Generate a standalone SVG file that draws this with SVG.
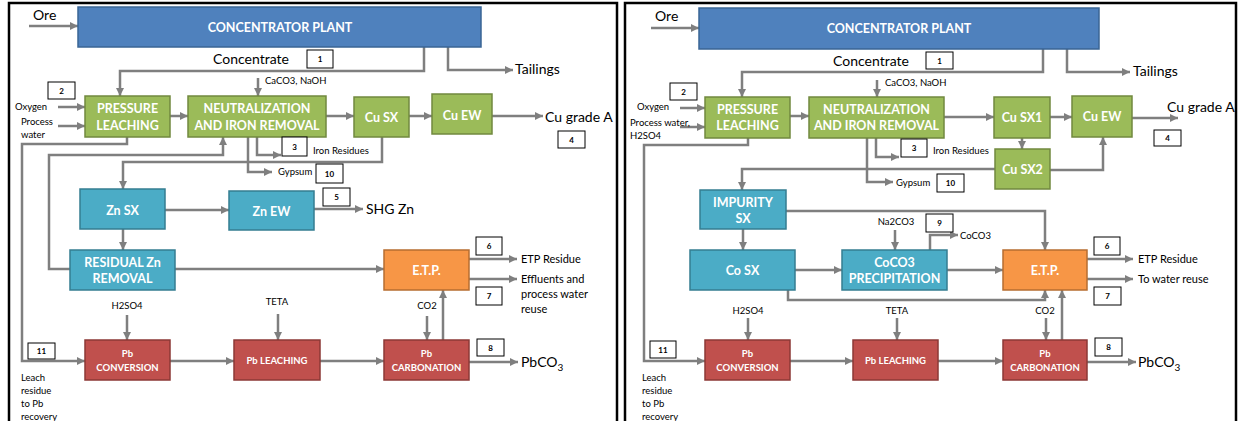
<svg xmlns="http://www.w3.org/2000/svg" width="1239" height="421" viewBox="0 0 1239 421">
  <defs>
    <marker id="ah" markerUnits="userSpaceOnUse" markerWidth="9" markerHeight="9" refX="8" refY="4.5" orient="auto">
      <path d="M0,0.5 L8,4.5 L0,8.5 z" fill="#7f7f7f"/>
    </marker>
    <style>
      .frame { fill: none; stroke: #000; stroke-width: 2.5; }
      .blue { fill: #4f81bd; stroke: #3a6595; stroke-width: 1.5; }
      .green { fill: #9bbb59; stroke: #71893f; stroke-width: 1.5; }
      .teal { fill: #4bacc6; stroke: #357d91; stroke-width: 1.5; }
      .orange { fill: #f79646; stroke: #b66d31; stroke-width: 1.5; }
      .red { fill: #c0504d; stroke: #8c3836; stroke-width: 1.5; }
      .nb { fill: #fff; stroke: #000; stroke-width: 1; }
      .nt { font-family: Lato, "Open Sans", sans-serif; font-size: 8px; font-weight: bold; fill: #000; text-anchor: middle; }
      .bt { font-family: Lato, "Open Sans", sans-serif; font-size: 12.5px; font-weight: bold; fill: #fff; text-anchor: middle; }
      .bts { font-family: Lato, "Open Sans", sans-serif; font-size: 9.5px; font-weight: bold; fill: #fff; text-anchor: middle; }
      .lg { font-family: Lato, "Open Sans", sans-serif; font-size: 14px; fill: #000; }
      .md { font-family: Lato, "Open Sans", sans-serif; font-size: 11px; fill: #000; }
      .sm { font-family: Lato, "Open Sans", sans-serif; font-size: 9.5px; fill: #000; }
      .ct { text-anchor: middle; }
      #connectors path { fill: none; stroke: #7f7f7f; stroke-width: 2.5; }
    </style>
  </defs>

  <rect width="1239" height="421" fill="#fff"/>

  <!-- panel frames -->
  <rect class="frame" x="9" y="3" width="608" height="440"/>
  <rect class="frame" x="625" y="3" width="611" height="440"/>

  <g id="connectors">
    <!-- left process -->
    <path d="M29,26 H78" marker-end="url(#ah)"/>
    <path d="M424,47 V71 H120 V96" marker-end="url(#ah)"/>
    <path d="M448,47 V70 H513" marker-end="url(#ah)"/>
    <path d="M258,78 V96" marker-end="url(#ah)"/>
    <path d="M58,107 H85" marker-end="url(#ah)"/>
    <path d="M58,126 H85" marker-end="url(#ah)"/>
    <path d="M170,116 H188" marker-end="url(#ah)"/>
    <path d="M326,116 H354" marker-end="url(#ah)"/>
    <path d="M409,116 H432" marker-end="url(#ah)"/>
    <path d="M492,116 H543" marker-end="url(#ah)"/>
    <path d="M127,137 V144 H22 V361 H85" marker-end="url(#ah)"/>
    <path d="M70,269 H49 V155 H223 V137" marker-end="url(#ah)"/>
    <path d="M248,137 V172 H272" marker-end="url(#ah)"/>
    <path d="M257,137 V155 H281" marker-end="url(#ah)"/>
    <path d="M382,137 V162 H123 V189" marker-end="url(#ah)"/>
    <path d="M165,210 H229" marker-end="url(#ah)"/>
    <path d="M314,209 H363" marker-end="url(#ah)"/>
    <path d="M123,229 V250" marker-end="url(#ah)"/>
    <path d="M175,269 H384" marker-end="url(#ah)"/>
    <path d="M469,259 H517" marker-end="url(#ah)"/>
    <path d="M469,279 H517" marker-end="url(#ah)"/>
    <path d="M427,316 V340" marker-end="url(#ah)"/>
    <path d="M443,340 V290" marker-end="url(#ah)"/>
    <path d="M469,362 H518" marker-end="url(#ah)"/>
    <path d="M170,361 H234" marker-end="url(#ah)"/>
    <path d="M320,361 H384" marker-end="url(#ah)"/>
    <path d="M127,315 V340" marker-end="url(#ah)"/>
    <path d="M278,314 V340" marker-end="url(#ah)"/>

    <!-- right process -->
    <path d="M651,28 H699" marker-end="url(#ah)"/>
    <path d="M1043,49 V72 H742 V97" marker-end="url(#ah)"/>
    <path d="M1067,49 V72 H1130" marker-end="url(#ah)"/>
    <path d="M877,80 V97" marker-end="url(#ah)"/>
    <path d="M680,108 H705" marker-end="url(#ah)"/>
    <path d="M680,127 H705" marker-end="url(#ah)"/>
    <path d="M790,116 H809" marker-end="url(#ah)"/>
    <path d="M944,117 H994" marker-end="url(#ah)"/>
    <path d="M1050,117 H1072" marker-end="url(#ah)"/>
    <path d="M1132,118 H1178" marker-end="url(#ah)"/>
    <path d="M1022,138 V149" marker-end="url(#ah)"/>
    <path d="M1050,170 H1103 V137" marker-end="url(#ah)"/>
    <path d="M995,169 H742 V190" marker-end="url(#ah)"/>
    <path d="M748,138 V145 H644 V361 H705" marker-end="url(#ah)"/>
    <path d="M867,138 V182 H893" marker-end="url(#ah)"/>
    <path d="M876,138 V157 H899" marker-end="url(#ah)"/>
    <path d="M786,211 H1045 V250" marker-end="url(#ah)"/>
    <path d="M743,229 V250" marker-end="url(#ah)"/>
    <path d="M895,230 V250" marker-end="url(#ah)"/>
    <path d="M930,250 V235 H958" marker-end="url(#ah)"/>
    <path d="M795,270 H842" marker-end="url(#ah)"/>
    <path d="M947,270 H1003" marker-end="url(#ah)"/>
    <path d="M788,290 V300 H1045 V290" marker-end="url(#ah)"/>
    <path d="M1087,259 H1133" marker-end="url(#ah)"/>
    <path d="M1087,279 H1133" marker-end="url(#ah)"/>
    <path d="M1046,318 V340" marker-end="url(#ah)"/>
    <path d="M1062,340 V290" marker-end="url(#ah)"/>
    <path d="M1087,362 H1136" marker-end="url(#ah)"/>
    <path d="M790,361 H853" marker-end="url(#ah)"/>
    <path d="M938,361 H1003" marker-end="url(#ah)"/>
    <path d="M748,318 V340" marker-end="url(#ah)"/>
    <path d="M897,318 V340" marker-end="url(#ah)"/>
  </g>

  <!-- left flowsheet: Zn recovery -->
  <g id="l-concentrator"><rect class="blue" x="78" y="7" width="403" height="40"/><text class="bt" x="280" y="31.5">CONCENTRATOR PLANT</text></g>
  <g id="l-pressure-leaching"><rect class="green" x="85" y="96" width="85" height="41"/><text class="bt" x="127.5" y="113">PRESSURE</text><text class="bt" x="127.5" y="129.5">LEACHING</text></g>
  <g id="l-neutralization"><rect class="green" x="188" y="96" width="138" height="41"/><text class="bt" x="257" y="113">NEUTRALIZATION</text><text class="bt" x="257" y="129.5">AND IRON REMOVAL</text></g>
  <g id="l-cu-sx"><rect class="green" x="354" y="97" width="55" height="40"/><text class="bt" x="381.5" y="121.5">Cu SX</text></g>
  <g id="l-cu-ew"><rect class="green" x="432" y="94" width="60" height="40"/><text class="bt" x="462" y="119.5">Cu EW</text></g>
  <g id="l-zn-sx"><rect class="teal" x="80" y="189" width="85" height="40"/><text class="bt" x="122.5" y="214.5">Zn SX</text></g>
  <g id="l-zn-ew"><rect class="teal" x="229" y="191" width="85" height="39"/><text class="bt" x="271.5" y="215.5">Zn EW</text></g>
  <g id="l-residual-zn"><rect class="teal" x="70" y="250" width="105" height="40"/><text class="bt" x="122.5" y="266.5">RESIDUAL Zn</text><text class="bt" x="122.5" y="282.5">REMOVAL</text></g>
  <g id="l-etp"><rect class="orange" x="384" y="250" width="85" height="40"/><text class="bt" x="426.5" y="274.5">E.T.P.</text></g>
  <g id="l-pb-conversion"><rect class="red" x="85" y="340" width="85" height="40"/><text class="bts" x="127.5" y="357">Pb</text><text class="bts" x="127.5" y="370.5">CONVERSION</text></g>
  <g id="l-pb-leaching"><rect class="red" x="234" y="340" width="86" height="40"/><text class="bts" x="277" y="364">Pb LEACHING</text></g>
  <g id="l-pb-carbonation"><rect class="red" x="384" y="340" width="85" height="40"/><text class="bts" x="426.5" y="357">Pb</text><text class="bts" x="426.5" y="370.5">CARBONATION</text></g>

  <!-- left stream labels -->
  <g id="l-labels">
    <text class="lg" x="33" y="20">Ore</text>
    <text class="lg" x="213" y="64">Concentrate</text>
    <text class="lg" x="515" y="74">Tailings</text>
    <text class="sm" x="265" y="84">CaCO3, NaOH</text>
    <text class="sm" x="15" y="110">Oxygen</text>
    <text class="sm" x="21" y="125">Process</text>
    <text class="sm" x="21" y="138">water</text>
    <text class="lg" x="545" y="122">Cu grade A</text>
    <text class="sm" x="313" y="154">Iron Residues</text>
    <text class="sm" x="278" y="175">Gypsum</text>
    <text class="lg" x="366" y="214">SHG Zn</text>
    <text class="md" x="521" y="263">ETP Residue</text>
    <text class="md" x="521" y="283">Effluents and</text>
    <text class="md" x="521" y="298">process water</text>
    <text class="md" x="521" y="313">reuse</text>
    <text class="sm ct" x="427" y="309">CO2</text>
    <text class="sm ct" x="127" y="309">H2SO4</text>
    <text class="sm ct" x="277" y="305">TETA</text>
    <text class="lg" x="521" y="367">PbCO<tspan dy="4" font-size="10">3</tspan></text>
    <text class="sm" x="21" y="381">Leach</text>
    <text class="sm" x="21" y="394">residue</text>
    <text class="sm" x="21" y="407">to Pb</text>
    <text class="sm" x="21" y="420">recovery</text>
  </g>

  <!-- left stream numbers -->
  <g id="l-numbers">
    <rect class="nb" x="307" y="50" width="26" height="18"/><text class="nt" x="320" y="62">1</text>
    <rect class="nb" x="48" y="82" width="27" height="17"/><text class="nt" x="61.5" y="93.5">2</text>
    <rect class="nb" x="282" y="137" width="25" height="19"/><text class="nt" x="294.5" y="149.5">3</text>
    <rect class="nb" x="558" y="131" width="27" height="17"/><text class="nt" x="571.5" y="142.5">4</text>
    <rect class="nb" x="323" y="188" width="27" height="18"/><text class="nt" x="336.5" y="200">5</text>
    <rect class="nb" x="476" y="237" width="26" height="18"/><text class="nt" x="489" y="249">6</text>
    <rect class="nb" x="476" y="287" width="26" height="18"/><text class="nt" x="489" y="299">7</text>
    <rect class="nb" x="477" y="339" width="27" height="17"/><text class="nt" x="490.5" y="350.5">8</text>
    <rect class="nb" x="316" y="164" width="27" height="19"/><text class="nt" x="329.5" y="176.5">10</text>
    <rect class="nb" x="28" y="343" width="27" height="16"/><text class="nt" x="41.5" y="354">11</text>
  </g>

  <!-- right flowsheet: Co recovery -->
  <g id="r-concentrator"><rect class="blue" x="699" y="8" width="400" height="41"/><text class="bt" x="899" y="32.5">CONCENTRATOR PLANT</text></g>
  <g id="r-pressure-leaching"><rect class="green" x="705" y="97" width="85" height="41"/><text class="bt" x="747.5" y="113.5">PRESSURE</text><text class="bt" x="747.5" y="130">LEACHING</text></g>
  <g id="r-neutralization"><rect class="green" x="809" y="97" width="135" height="41"/><text class="bt" x="876.5" y="113.5">NEUTRALIZATION</text><text class="bt" x="876.5" y="130">AND IRON REMOVAL</text></g>
  <g id="r-cu-sx1"><rect class="green" x="994" y="97" width="56" height="41"/><text class="bt" x="1022" y="122">Cu SX1</text></g>
  <g id="r-cu-ew"><rect class="green" x="1072" y="96" width="60" height="41"/><text class="bt" x="1102" y="120.5">Cu EW</text></g>
  <g id="r-cu-sx2"><rect class="green" x="995" y="149" width="55" height="40"/><text class="bt" x="1022.5" y="174">Cu SX2</text></g>
  <g id="r-impurity-sx"><rect class="teal" x="700" y="190" width="86" height="39"/><text class="bt" x="743" y="206.5">IMPURITY</text><text class="bt" x="743" y="222.5">SX</text></g>
  <g id="r-co-sx"><rect class="teal" x="690" y="250" width="105" height="40"/><text class="bt" x="742.5" y="274.5">Co SX</text></g>
  <g id="r-coco3"><rect class="teal" x="842" y="250" width="105" height="40"/><text class="bt" x="894.5" y="266.5">CoCO3</text><text class="bt" x="894.5" y="282.5">PRECIPITATION</text></g>
  <g id="r-etp"><rect class="orange" x="1003" y="250" width="84" height="40"/><text class="bt" x="1045" y="274.5">E.T.P.</text></g>
  <g id="r-pb-conversion"><rect class="red" x="705" y="340" width="85" height="40"/><text class="bts" x="747.5" y="357">Pb</text><text class="bts" x="747.5" y="370.5">CONVERSION</text></g>
  <g id="r-pb-leaching"><rect class="red" x="853" y="340" width="85" height="40"/><text class="bts" x="895.5" y="364">Pb LEACHING</text></g>
  <g id="r-pb-carbonation"><rect class="red" x="1003" y="340" width="84" height="40"/><text class="bts" x="1045" y="357">Pb</text><text class="bts" x="1045" y="370.5">CARBONATION</text></g>

  <!-- right stream labels -->
  <g id="r-labels">
    <text class="lg" x="655" y="21">Ore</text>
    <text class="lg" x="833" y="66">Concentrate</text>
    <text class="lg" x="1133" y="76">Tailings</text>
    <text class="sm" x="885" y="86">CaCO3, NaOH</text>
    <text class="sm" x="637" y="110">Oxygen</text>
    <text class="sm" x="630" y="126">Process water,</text>
    <text class="sm" x="630" y="139">H2SO4</text>
    <text class="lg" x="1167" y="112">Cu grade A</text>
    <text class="sm" x="933" y="154">Iron Residues</text>
    <text class="sm" x="896" y="186">Gypsum</text>
    <text class="sm ct" x="896" y="225">Na2CO3</text>
    <text class="sm" x="960" y="239">CoCO3</text>
    <text class="md" x="1138" y="263">ETP Residue</text>
    <text class="md" x="1138" y="283">To water reuse</text>
    <text class="sm ct" x="1045" y="314">CO2</text>
    <text class="sm ct" x="748" y="314">H2SO4</text>
    <text class="sm ct" x="897" y="314">TETA</text>
    <text class="lg" x="1138" y="367">PbCO<tspan dy="4" font-size="10">3</tspan></text>
    <text class="sm" x="642" y="381">Leach</text>
    <text class="sm" x="642" y="394">residue</text>
    <text class="sm" x="642" y="407">to Pb</text>
    <text class="sm" x="642" y="420">recovery</text>
  </g>

  <!-- right stream numbers -->
  <g id="r-numbers">
    <rect class="nb" x="926" y="52" width="27" height="17"/><text class="nt" x="939.5" y="63.5">1</text>
    <rect class="nb" x="670" y="83" width="27" height="17"/><text class="nt" x="683.5" y="94.5">2</text>
    <rect class="nb" x="901" y="139" width="26" height="18"/><text class="nt" x="914" y="151">3</text>
    <rect class="nb" x="1154" y="130" width="27" height="16"/><text class="nt" x="1167.5" y="141">4</text>
    <rect class="nb" x="1094" y="237" width="26" height="18"/><text class="nt" x="1107" y="249">6</text>
    <rect class="nb" x="1094" y="287" width="27" height="18"/><text class="nt" x="1107.5" y="299">7</text>
    <rect class="nb" x="1095" y="338" width="27" height="18"/><text class="nt" x="1108.5" y="350">8</text>
    <rect class="nb" x="926" y="214" width="27" height="18"/><text class="nt" x="939.5" y="226">9</text>
    <rect class="nb" x="937" y="174" width="27" height="18"/><text class="nt" x="950.5" y="186">10</text>
    <rect class="nb" x="650" y="341" width="26" height="17"/><text class="nt" x="663" y="352.5">11</text>
  </g>
</svg>
